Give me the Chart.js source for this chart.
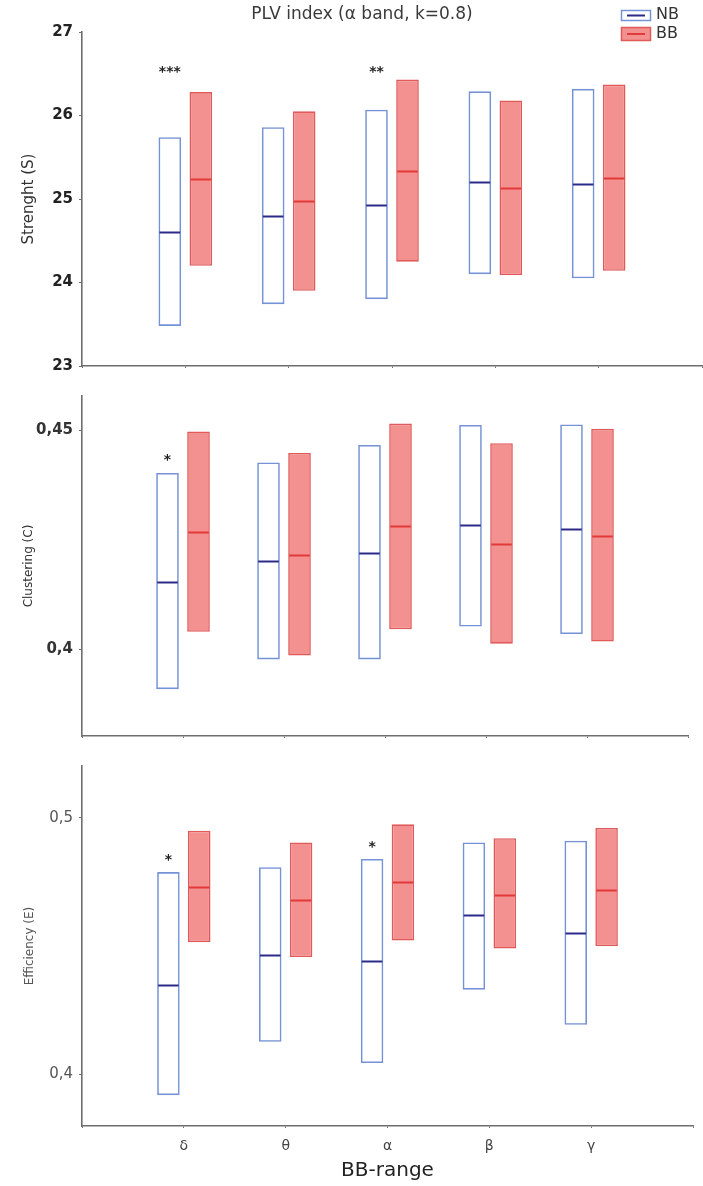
<!DOCTYPE html>
<html><head><meta charset="utf-8">
<script src="https://cdn.jsdelivr.net/npm/chart.js@4/dist/chart.umd.min.js"></script>
<style>
html,body{margin:0;padding:0;background:#fff;}
#wrap{position:relative;width:703px;height:1186px;overflow:hidden;}
canvas{position:absolute;left:0;}
</style></head><body>
<div id="wrap">
<canvas id="cS" width="703" height="381" style="top:0px"></canvas>
<canvas id="cC" width="703" height="370" style="top:381px"></canvas>
<canvas id="cE" width="703" height="435" style="top:751px"></canvas>
</div>
<script>
// ---------- data ----------
const bands = ['δ', 'θ', 'α', 'β', 'γ'];
const seriesNames = ['NB', 'BB'];
const titleText = 'PLV index (\u03b1 band, k=0.8)';

// Strength (S)
const strengthNB_min = [23.48, 23.74, 23.80, 24.10, 24.05];
const strengthNB_med = [24.60, 24.80, 24.93, 25.20, 25.18];
const strengthNB_max = [25.74, 25.86, 26.07, 26.29, 26.32];
const strengthBB_min = [24.20, 23.90, 24.25, 24.09, 24.14];
const strengthBB_med = [25.24, 24.98, 25.33, 25.13, 25.25];
const strengthBB_max = [26.28, 26.05, 26.43, 26.18, 26.37];
const strengthSig = ['***', '', '**', '', ''];
const strengthTicks = [23, 24, 25, 26, 27];

// Clustering (C)
const clusterNB_min = [0.3909, 0.3977, 0.3977, 0.4052, 0.4035];
const clusterNB_med = [0.4155, 0.4201, 0.4221, 0.4285, 0.4275];
const clusterNB_max = [0.4403, 0.4427, 0.4467, 0.4513, 0.4514];
const clusterBB_min = [0.4040, 0.3986, 0.4046, 0.4013, 0.4018];
const clusterBB_med = [0.4269, 0.4216, 0.4281, 0.4240, 0.4260];
const clusterBB_max = [0.4498, 0.4449, 0.4516, 0.4471, 0.4504];
const clusterSig = ['*', '', '', '', ''];
const clusterTicks = [0.4, 0.45];

// Efficiency (E)
const effNB_min = [0.3919, 0.4127, 0.4044, 0.4330, 0.4193];
const effNB_med = [0.4350, 0.4466, 0.4440, 0.4620, 0.4550];
const effNB_max = [0.4788, 0.4807, 0.4839, 0.4903, 0.4910];
const effBB_min = [0.4515, 0.4457, 0.4521, 0.4490, 0.4500];
const effBB_med = [0.4730, 0.4678, 0.4749, 0.4700, 0.4720];
const effBB_max = [0.4949, 0.4903, 0.4974, 0.4920, 0.4960];
const effSig = ['*', '', '*', '', ''];
const effTicks = [0.4, 0.5];

// ---------- styling ----------
const NB_BORDER = '#7592d6';
const NB_MED = '#2c2a88';
const BB_FILL = '#f39090';
const BB_BORDER = '#e05a5a';
const BB_MED = '#e23a3a';
const AXIS = '#6e6e6e';
const FONT = '"DejaVu Sans", Verdana, sans-serif';

const labels = [''].concat(bands, ['']);
function ranges(mins, maxs) {
  return [null].concat(mins.map((v, i) => [v, maxs[i]]), [null]);
}
function pad(arr) { return [null].concat(arr, [null]); }

const medianPlugin = {
  id: 'medians',
  afterDatasetsDraw(chart) {
    const ctx = chart.ctx, ys = chart.scales.y;
    chart.data.datasets.forEach((ds, di) => {
      const meta = chart.getDatasetMeta(di);
      meta.data.forEach((el, i) => {
        const m = ds.medians[i];
        if (m == null) return;
        const py = Math.round(ys.getPixelForValue(m)) + 0.5;
        ctx.save();
        ctx.strokeStyle = ds.medianColor;
        ctx.lineWidth = 2;
        ctx.beginPath();
        ctx.moveTo(el.x - el.width / 2 + 1, py);
        ctx.lineTo(el.x + el.width / 2 - 1, py);
        ctx.stroke();
        ctx.restore();
      });
    });
  }
};

const sigPlugin = {
  id: 'sig',
  afterDatasetsDraw(chart, args, opts) {
    const ctx = chart.ctx, ys = chart.scales.y;
    const meta = chart.getDatasetMeta(0);
    const ds = chart.data.datasets[0];
    opts.labels.forEach((s, i) => {
      if (!s) return;
      const el = meta.data[i + 1];
      let cy;
      if (opts.fixedTop != null) cy = chart.chartArea.top + opts.fixedTop;
      else cy = ys.getPixelForValue(ds.data[i + 1][1]) - opts.above;
      ctx.save();
      ctx.fillStyle = '#222';
      ctx.font = 'bold 14px ' + FONT;
      ctx.textAlign = 'center';
      ctx.textBaseline = 'alphabetic';
      ctx.fillText(s, el.x, cy + 8);
      ctx.restore();
    });
  }
};

const decorPlugin = {
  id: 'decor',
  afterDraw(chart, args, opts) {
    if (!opts.show) return;
    const ctx = chart.ctx;
    ctx.save();
    ctx.fillStyle = '#3a3a3a';
    ctx.font = '17px ' + FONT;
    ctx.textAlign = 'center';
    ctx.textBaseline = 'middle';
    ctx.fillText(titleText, 362, 15);
    // legend
    ctx.textAlign = 'left';
    ctx.font = '16px ' + FONT;
    // NB
    ctx.fillStyle = '#fff'; ctx.fillRect(621, 10, 30, 11);
    ctx.strokeStyle = NB_BORDER; ctx.lineWidth = 1.5;
    ctx.strokeRect(621.5, 10.5, 29, 10);
    ctx.strokeStyle = NB_MED; ctx.lineWidth = 2;
    ctx.beginPath(); ctx.moveTo(627, 15.5); ctx.lineTo(645, 15.5); ctx.stroke();
    ctx.fillStyle = '#333'; ctx.fillText(seriesNames[0], 656, 15);
    // BB
    ctx.fillStyle = BB_FILL; ctx.fillRect(621, 27, 30, 14);
    ctx.strokeStyle = BB_BORDER; ctx.lineWidth = 1.5;
    ctx.strokeRect(621.5, 27.5, 29, 13);
    ctx.strokeStyle = BB_MED; ctx.lineWidth = 2;
    ctx.beginPath(); ctx.moveTo(627, 34); ctx.lineTo(645, 34); ctx.stroke();
    ctx.fillStyle = '#333'; ctx.fillText(seriesNames[1], 656, 34);
    ctx.restore();
  }
};

function makePanel(id, p) {
  return new Chart(document.getElementById(id), {
    type: 'bar',
    data: {
      labels: labels,
      datasets: [
        { label: seriesNames[0], data: ranges(p.nbMin, p.nbMax), medians: pad(p.nbMed), medianColor: NB_MED,
          backgroundColor: 'rgba(255,255,255,0)', borderColor: NB_BORDER, borderWidth: 1.6, borderSkipped: false,
          categoryPercentage: p.cp, barPercentage: 0.73 },
        { label: seriesNames[1], data: ranges(p.bbMin, p.bbMax), medians: pad(p.bbMed), medianColor: BB_MED,
          backgroundColor: BB_FILL, borderColor: BB_BORDER, borderWidth: 1.6, borderSkipped: false,
          categoryPercentage: p.cp, barPercentage: 0.73 }
      ]
    },
    options: {
      responsive: false, animation: false, events: [],
      layout: { padding: { top: p.padTop, right: p.padRight, left: 0, bottom: 0 } },
      plugins: {
        legend: { display: false }, tooltip: { enabled: false }, title: { display: false },
        sig: p.sig, decor: { show: !!p.decor }
      },
      scales: {
        x: {
          type: 'category', offset: false,
          grid: { offset: false, drawOnChartArea: false, drawTicks: true, tickLength: 2, color: AXIS, lineWidth: 1 },
          border: { display: true, color: AXIS, width: 1.6 },
          ticks: { display: !!p.xLabels, color: '#444', font: { family: FONT, size: 14 }, padding: 10, maxRotation: 0, autoSkip: false },
          title: { display: !!p.xTitle, text: p.xTitle || '', color: '#222', font: { family: FONT, size: 20 }, padding: { top: 0, bottom: 3 } },
          afterFit(s) { s.height = p.xHeight; }
        },
        y: {
          type: 'linear', min: p.min, max: p.max,
          grid: { drawOnChartArea: false, drawTicks: true, tickLength: 3, color: AXIS },
          border: { display: true, color: AXIS, width: 1.6 },
          afterBuildTicks(s) { s.ticks = p.ticks.map(v => ({ value: v })); },
          ticks: { color: p.tickColor, padding: 6, font: { family: FONT, size: p.tickSize, weight: p.tickWeight },
                   callback: v => String(v).replace('.', ',') },
          title: { display: true, text: p.yTitle, color: p.yTitleColor, font: { family: FONT, size: p.yTitleSize },
                   padding: { top: p.yTitlePad, bottom: 0 } },
          afterFit(s) { s.width = 82; }
        }
      }
    },
    plugins: [medianPlugin, sigPlugin, decorPlugin]
  });
}

makePanel('cS', {
  nbMin: strengthNB_min, nbMed: strengthNB_med, nbMax: strengthNB_max,
  bbMin: strengthBB_min, bbMed: strengthBB_med, bbMax: strengthBB_max,
  sig: { labels: strengthSig, fixedTop: 36 },
  ticks: strengthTicks, min: 23, max: 27,
  padTop: 32, padRight: 1, xHeight: 4, cp: 0.60,
  tickColor: '#222', tickSize: 15, tickWeight: 'bold',
  yTitle: 'Strenght (S)', yTitleColor: '#333', yTitleSize: 15, yTitlePad: 20,
  decor: true
});
makePanel('cC', {
  nbMin: clusterNB_min, nbMed: clusterNB_med, nbMax: clusterNB_max,
  bbMin: clusterBB_min, bbMed: clusterBB_med, bbMax: clusterBB_max,
  sig: { labels: clusterSig, above: 17 },
  ticks: clusterTicks, min: 0.3802, max: 0.4579,
  padTop: 8, padRight: 15, xHeight: 8, cp: 0.614,
  tickColor: '#333', tickSize: 15, tickWeight: 'bold',
  yTitle: 'Clustering (C)', yTitleColor: '#333', yTitleSize: 12, yTitlePad: 22
});
makePanel('cE', {
  nbMin: effNB_min, nbMed: effNB_med, nbMax: effNB_max,
  bbMin: effBB_min, bbMed: effBB_med, bbMax: effBB_max,
  sig: { labels: effSig, above: 16 },
  ticks: effTicks, min: 0.3799, max: 0.5201,
  padTop: 12, padRight: 7, xHeight: 60, cp: 0.606,
  tickColor: '#555', tickSize: 15, tickWeight: 'normal',
  yTitle: 'Efficiency (E)', yTitleColor: '#555', yTitleSize: 12, yTitlePad: 23,
  xLabels: true, xTitle: 'BB-range'
});
</script>
</body></html>
